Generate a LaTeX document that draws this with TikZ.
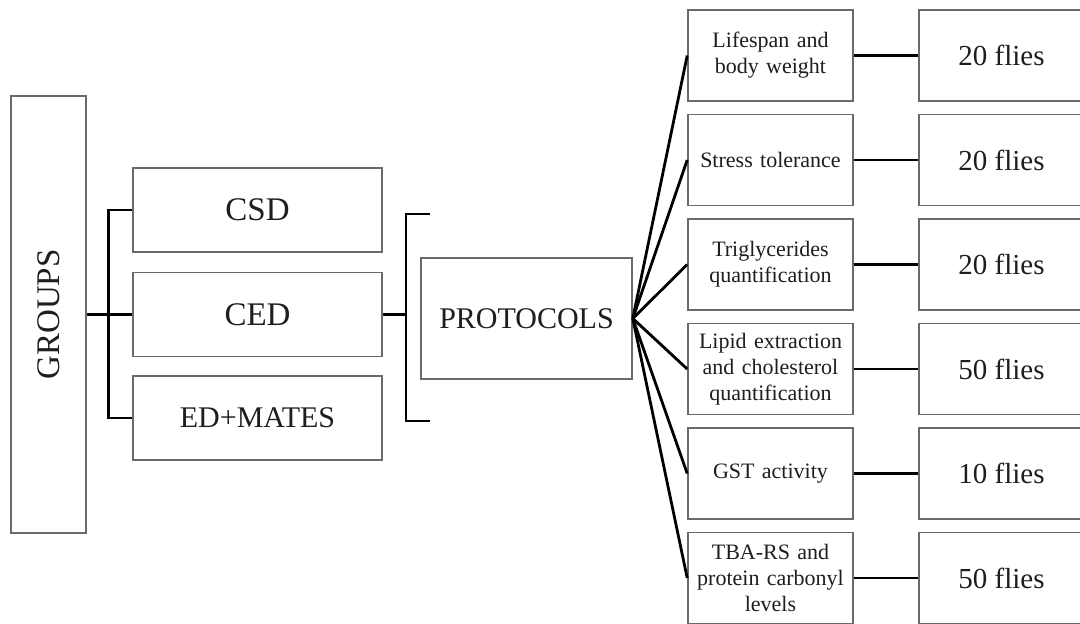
\documentclass[tikz,border=0pt]{standalone}
\usepackage{fontspec}
\setmainfont{Liberation Serif}
\usetikzlibrary{positioning}
\definecolor{Ink}{HTML}{1E1E1E}
\definecolor{Frame}{HTML}{6A6A6A}
\tikzset{
  box/.style={draw=Frame,line width=1.6pt,fill=white,inner sep=2pt,text=Ink,align=center},
  grp/.style={box,minimum width=249pt,minimum height=84pt,font=\fontsize{33}{38}\selectfont},
  task/.style={box,minimum width=165pt,minimum height=91pt,text width=158pt,font=\fontsize{22}{26}\selectfont},
  count/.style={box,minimum width=165pt,minimum height=91pt,font=\fontsize{29}{34}\selectfont},
  conn/.style={draw=black,line width=2.8pt}
}
\begin{document}
\begin{tikzpicture}[x=1pt,y=-1pt]
  \useasboundingbox (0,0) rectangle (1080,624);
  \fill[white] (0,0) rectangle (1080,624);
  % groups
  \node[box,minimum width=75pt,minimum height=437pt,font=\fontsize{33}{38}\selectfont] (groups) at (48.5,314.5) {\rotatebox{90}{GROUPS}};
  \node[grp] (csd) at (257.5,210) {CSD};
  \node[grp] (ced) at (257.5,314.5) {CED};
  \node[grp,font=\fontsize{30}{36}\selectfont] (mates) at (257.5,418) {ED+MATES};
  \draw[conn] (groups.east) -- (ced.west);
  \draw[conn] (csd.west) -- ++(-24,0) |- (mates.west);
  % bracket to protocols
  \coordinate (btop) at (430,214);
  \coordinate (bbot) at (430,421);
  \coordinate (bmid) at (406,314.5);
  \draw[conn] (btop) -- ++(-24,0) |- (bbot);
  \draw[conn] (ced.east) -- (bmid);
  \node[box,minimum width=211pt,minimum height=121pt,font=\fontsize{30}{36}\selectfont] (prot) at (526.5,318.5) {PROTOCOLS};
  % protocols and flies
  \foreach \i/\txt/\n in {0/{Lifespan and\\body weight}/20,
                          1/{Stress tolerance}/20,
                          2/{Triglycerides\\quantification}/20,
                          3/{Lipid extraction\\and cholesterol\\quantification}/50,
                          4/{GST activity}/10,
                          5/{TBA-RS and\\protein carbonyl\\levels}/50}{
    \node[task] (task\i) at (770.5,{55.5+104.5*\i}) {\txt};
    \node[count] (count\i) at (1001.5,{55.5+104.5*\i}) {\n\ flies};
    \draw[conn] (prot.east) -- (task\i.west);
    \draw[conn] (task\i.east) -- (count\i.west);
  }
\end{tikzpicture}
\end{document}
